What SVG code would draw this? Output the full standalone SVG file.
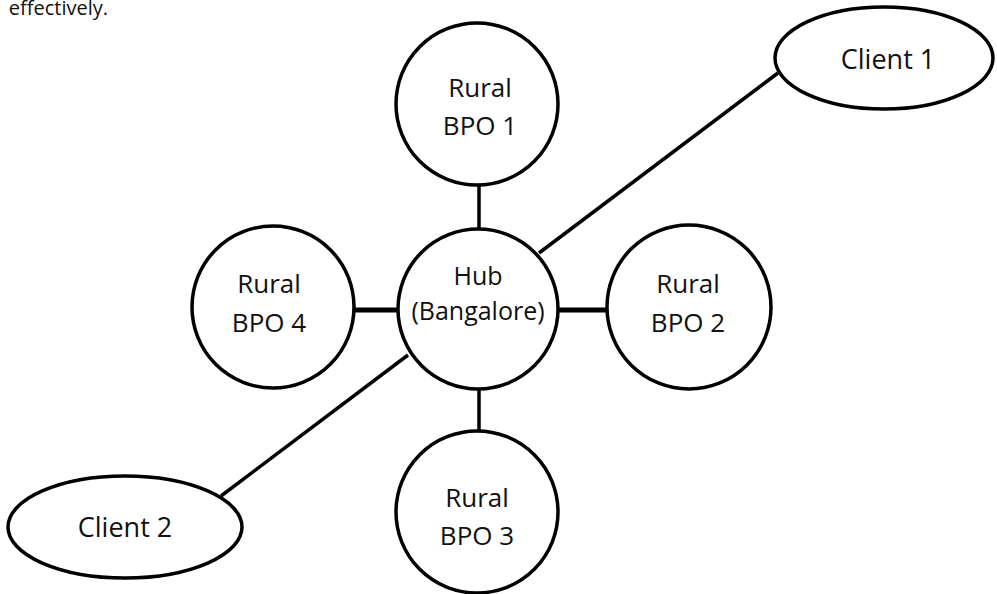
<svg xmlns="http://www.w3.org/2000/svg" width="997" height="594" viewBox="0 0 997 594">
<style>
.n{fill:#fff;stroke:#000;stroke-width:3.5}
.t{font-family:"Open Sans","Liberation Sans",sans-serif;fill:#111;text-anchor:middle}
.r{font-size:26px}
.h{font-size:25px}
.c{font-size:27px}
.e{stroke:#000;stroke-width:3.5;fill:none}
.w{stroke-width:5}
</style>
<rect width="997" height="594" fill="#fff"/>
<text x="108" y="15" class="t" style="text-anchor:end;font-size:20px">effectively.</text>
<g id="connectors">
<line class="e" x1="479" y1="185" x2="479" y2="229"/>
<line class="e" x1="479" y1="389" x2="479" y2="432"/>
<line class="e w" x1="350" y1="310" x2="398" y2="310"/>
<line class="e w" x1="558" y1="310" x2="608" y2="310"/>
<line class="e" x1="539" y1="253" x2="778" y2="73"/>
<line class="e" x1="408" y1="355" x2="221" y2="496"/>
</g>
<g id="hub">
<circle class="n" cx="478" cy="309" r="80"/>
<text class="t h" x="478" y="285">Hub</text>
<text class="t h" x="478" y="320">(Bangalore)</text>
</g>
<g id="bpo1">
<circle class="n" cx="477" cy="104" r="81"/>
<text class="t r" x="480" y="97">Rural</text>
<text class="t r" x="480" y="135">BPO 1</text>
</g>
<g id="bpo4">
<circle class="n" cx="273" cy="307" r="81"/>
<text class="t r" x="269" y="293">Rural</text>
<text class="t r" x="269" y="332">BPO 4</text>
</g>
<g id="bpo2">
<circle class="n" cx="689" cy="307" r="82"/>
<text class="t r" x="688" y="293">Rural</text>
<text class="t r" x="688" y="332">BPO 2</text>
</g>
<g id="bpo3">
<circle class="n" cx="477" cy="512" r="81"/>
<text class="t r" x="477" y="507">Rural</text>
<text class="t r" x="477" y="545">BPO 3</text>
</g>
<g id="client1">
<ellipse class="n" cx="884" cy="58" rx="109" ry="51"/>
<text class="t c" x="888" y="69">Client 1</text>
</g>
<g id="client2">
<ellipse class="n" cx="125" cy="527" rx="117" ry="51"/>
<text class="t c" x="125" y="537">Client 2</text>
</g>
</svg>
